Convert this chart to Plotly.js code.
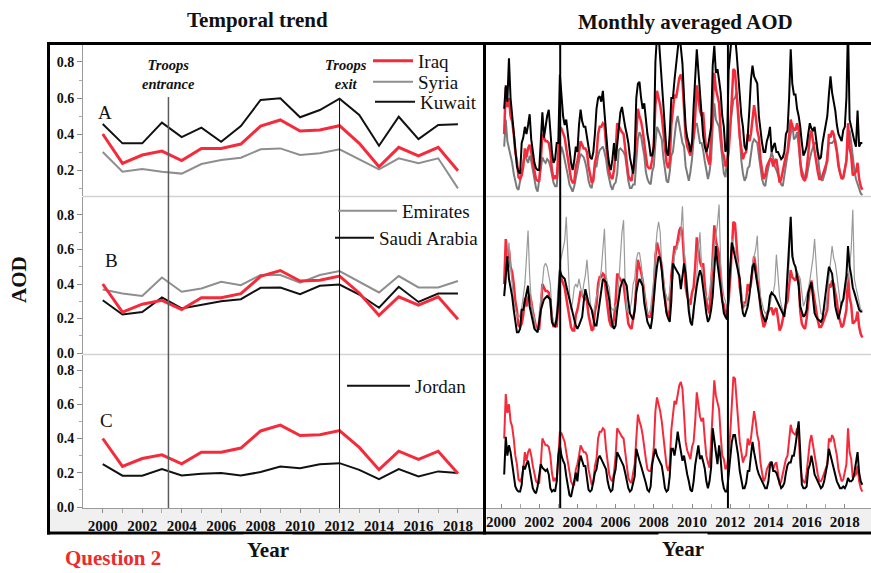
<!DOCTYPE html>
<html><head><meta charset="utf-8">
<script src="https://cdn.plot.ly/plotly-3.0.1.min.js"></script>
<style>html,body{margin:0;padding:0;background:#fff}#chart{width:871px;height:573px}</style>
</head><body><div id="chart"></div>
<script>
// ---------- DATA ----------
const years = [2000,2001,2002,2003,2004,2005,2006,2007,2008,2009,2010,2011,2012,2013,2014,2015,2016,2017,2018];
// annual means (left column)
const iraqAnnual    = [0.40,0.237,0.283,0.305,0.252,0.32,0.32,0.344,0.444,0.478,0.417,0.422,0.446,0.348,0.218,0.326,0.278,0.326,0.196];
const syriaAnnual   = [0.30,0.19,0.205,0.19,0.18,0.233,0.256,0.268,0.315,0.32,0.283,0.293,0.315,0.26,0.204,0.265,0.237,0.265,0.098];
const kuwaitAnnual  = [0.456,0.348,0.348,0.463,0.383,0.435,0.357,0.444,0.589,0.598,0.493,0.533,0.596,0.506,0.335,0.496,0.372,0.45,0.454];
const emiratesAnnual= [0.368,0.345,0.33,0.438,0.355,0.374,0.413,0.393,0.452,0.452,0.407,0.452,0.475,0.413,0.351,0.446,0.38,0.38,0.417];
const saudiAnnual   = [0.306,0.223,0.238,0.322,0.258,0.281,0.30,0.312,0.378,0.38,0.341,0.39,0.397,0.339,0.262,0.384,0.296,0.345,0.345];
const jordanAnnual  = [0.25,0.183,0.183,0.221,0.184,0.194,0.198,0.184,0.204,0.237,0.227,0.25,0.256,0.217,0.163,0.221,0.179,0.208,0.198];

// monthly means Jan 2000 .. Dec 2018 (right column), one row per year
const iraqMonthly = [
 null,null,0.40,0.66,0.55,0.60,0.50,0.47,0.40,0.30,0.25,0.16,
 0.15,0.17,0.22,0.32,0.27,0.32,0.34,0.30,0.24,0.19,0.15,0.14,
 0.14,0.25,0.40,0.38,0.36,0.36,0.35,0.30,0.20,0.15,0.17,0.15,
 0.30,0.44,0.43,0.40,0.38,0.32,0.26,0.20,0.15,0.13,0.13,0.22,
 0.25,0.30,0.36,0.34,0.32,0.32,0.30,0.22,0.17,0.13,0.14,0.24,
 0.28,0.40,0.44,0.44,0.46,0.45,0.34,0.26,0.19,0.16,0.15,0.20,
 0.30,0.46,0.44,0.43,0.41,0.40,0.32,0.22,0.17,0.15,0.14,0.20,
 0.25,0.40,0.54,0.50,0.47,0.42,0.34,0.28,0.22,0.21,0.21,0.26,
 0.35,0.56,0.64,0.60,0.56,0.50,0.40,0.32,0.24,0.21,0.25,0.45,
 0.56,0.62,0.60,0.65,0.71,0.73,0.69,0.54,0.38,0.33,0.30,0.28,
 0.35,0.38,0.50,0.67,0.60,0.53,0.50,0.52,0.40,0.30,0.26,0.23,
 0.38,0.60,0.74,0.65,0.61,0.57,0.42,0.30,0.28,0.22,0.24,0.30,
 0.43,0.60,0.76,0.75,0.62,0.50,0.38,0.32,0.26,0.29,0.30,0.40,
 0.36,0.40,0.50,0.56,0.50,0.42,0.38,0.26,0.20,0.15,0.17,0.22,
 0.24,0.26,0.26,0.22,0.25,0.26,0.20,0.13,0.15,0.20,0.24,0.28,
 0.30,0.40,0.48,0.44,0.43,0.42,0.46,0.42,0.24,0.17,0.15,0.14,
 0.20,0.28,0.38,0.42,0.36,0.30,0.26,0.19,0.15,0.15,0.17,0.20,
 0.22,0.25,0.40,0.38,0.42,0.40,0.35,0.30,0.22,0.18,0.15,0.16,
 0.20,0.25,0.46,0.32,0.28,0.17,0.18,0.19,0.24,0.15,0.11,0.09];
const syriaMonthly = [
 null,null,0.33,0.48,0.36,0.32,0.29,0.24,0.18,0.14,0.10,0.09,
 0.14,0.20,0.24,0.29,0.26,0.24,0.28,0.25,0.20,0.14,0.10,0.08,
 0.15,0.22,0.27,0.25,0.24,0.26,0.25,0.22,0.18,0.13,0.11,0.11,
 0.22,0.28,0.33,0.30,0.26,0.22,0.17,0.12,0.10,0.08,0.11,0.15,
 0.20,0.25,0.29,0.28,0.27,0.24,0.20,0.14,0.11,0.10,0.16,0.22,
 0.22,0.28,0.31,0.32,0.33,0.30,0.26,0.19,0.15,0.11,0.09,0.12,
 0.13,0.18,0.31,0.32,0.31,0.30,0.28,0.20,0.14,0.10,0.10,0.12,
 0.12,0.25,0.37,0.41,0.39,0.33,0.28,0.19,0.15,0.13,0.12,0.19,
 0.22,0.35,0.44,0.42,0.40,0.37,0.27,0.19,0.14,0.13,0.19,0.28,
 0.30,0.38,0.46,0.50,0.44,0.40,0.35,0.33,0.22,0.17,0.14,0.19,
 0.26,0.37,0.45,0.46,0.40,0.35,0.35,0.31,0.25,0.19,0.15,0.19,
 0.26,0.44,0.57,0.48,0.46,0.44,0.35,0.24,0.18,0.16,0.24,0.35,
 0.45,0.53,0.59,0.60,0.63,0.53,0.39,0.25,0.18,0.14,0.16,0.21,
 0.22,0.29,0.35,0.37,0.36,0.35,0.28,0.22,0.15,0.12,0.11,0.17,
 0.22,0.26,0.30,0.27,0.22,0.20,0.17,0.15,0.12,0.11,0.17,0.22,
 0.30,0.35,0.42,0.46,0.37,0.38,0.41,0.31,0.25,0.20,0.18,0.15,
 0.16,0.22,0.26,0.30,0.33,0.35,0.35,0.29,0.20,0.15,0.14,0.17,
 0.20,0.29,0.35,0.35,0.35,0.36,0.37,0.31,0.23,0.18,0.16,0.15,
 0.20,0.26,0.35,0.42,0.35,0.26,0.20,0.15,0.12,0.10,0.07,0.06];
const kuwaitMonthly = [
 null,null,0.54,0.67,0.58,0.82,0.60,0.50,0.40,0.32,0.22,0.19,
 0.18,0.35,0.38,0.44,0.40,0.45,0.51,0.37,0.30,0.24,0.21,0.20,
 0.20,0.37,0.52,0.38,0.45,0.50,0.535,0.42,0.30,0.24,0.26,0.35,
 0.35,0.73,0.63,0.50,0.45,0.48,0.40,0.30,0.24,0.20,0.25,0.33,
 0.30,0.45,0.535,0.47,0.44,0.44,0.38,0.33,0.27,0.26,0.30,0.40,
 0.54,0.60,0.61,0.58,0.64,0.52,0.40,0.30,0.23,0.20,0.26,0.35,
 0.25,0.35,0.45,0.52,0.55,0.48,0.44,0.40,0.35,0.27,0.22,0.18,
 0.30,0.60,0.68,0.69,0.60,0.54,0.57,0.46,0.40,0.35,0.28,0.28,
 0.33,0.80,0.95,0.95,0.82,0.70,0.53,0.42,0.30,0.28,0.40,0.60,
 0.60,0.70,0.79,0.90,0.95,0.88,0.79,0.60,0.44,0.38,0.35,0.30,
 0.35,0.55,0.70,0.87,0.75,0.63,0.49,0.39,0.33,0.30,0.33,0.40,
 0.44,0.78,0.89,0.74,0.76,0.70,0.63,0.50,0.44,0.30,0.33,0.75,
 0.85,0.95,0.95,0.95,0.85,0.72,0.58,0.50,0.44,0.33,0.31,0.39,
 0.53,0.70,0.78,0.72,0.70,0.68,0.50,0.42,0.35,0.30,0.30,0.36,
 0.39,0.44,0.30,0.33,0.35,0.30,0.30,0.28,0.26,0.27,0.30,0.40,
 0.42,0.60,0.87,0.68,0.62,0.62,0.54,0.50,0.44,0.35,0.28,0.30,
 0.33,0.40,0.46,0.43,0.42,0.44,0.36,0.30,0.26,0.27,0.35,0.40,
 0.44,0.50,0.62,0.72,0.63,0.58,0.53,0.45,0.40,0.38,0.36,0.42,
 0.44,0.60,1.00,0.48,0.43,0.40,0.36,0.33,0.53,0.33,0.35,0.35];
const emiratesMonthly = [
 null,null,0.35,0.40,0.55,0.64,0.50,0.37,0.30,0.25,0.22,0.20,
 0.22,0.26,0.33,0.40,0.55,0.71,0.45,0.30,0.23,0.20,0.14,0.14,
 0.23,0.30,0.40,0.50,0.52,0.50,0.45,0.40,0.23,0.18,0.17,0.25,
 0.40,0.52,0.56,0.60,0.65,0.79,0.55,0.35,0.25,0.30,0.38,0.40,
 0.38,0.43,0.38,0.33,0.40,0.45,0.54,0.40,0.30,0.24,0.22,0.28,
 0.33,0.35,0.42,0.48,0.60,0.72,0.45,0.40,0.38,0.27,0.25,0.25,
 0.28,0.26,0.41,0.55,0.70,0.77,0.40,0.25,0.23,0.25,0.30,0.40,
 0.43,0.54,0.58,0.58,0.52,0.42,0.33,0.28,0.23,0.23,0.26,0.36,
 0.43,0.58,0.70,0.76,0.70,0.50,0.43,0.36,0.33,0.30,0.36,0.43,
 0.43,0.56,0.60,0.62,0.65,0.70,0.85,0.60,0.52,0.40,0.30,0.20,
 0.195,0.20,0.35,0.45,0.60,0.70,0.50,0.40,0.35,0.32,0.30,0.35,
 0.45,0.56,0.62,0.68,0.75,0.86,0.52,0.40,0.33,0.30,0.25,0.35,
 0.55,0.66,0.62,0.60,0.55,0.52,0.45,0.35,0.29,0.28,0.27,0.33,
 0.33,0.40,0.52,0.56,0.60,0.68,0.45,0.33,0.28,0.25,0.23,0.24,
 0.25,0.28,0.33,0.35,0.40,0.57,0.45,0.33,0.28,0.25,0.24,0.30,
 0.40,0.52,0.76,0.60,0.52,0.50,0.47,0.45,0.43,0.35,0.27,0.30,
 0.33,0.37,0.42,0.48,0.55,0.66,0.50,0.37,0.30,0.23,0.22,0.25,
 0.25,0.35,0.45,0.52,0.62,0.55,0.52,0.45,0.37,0.30,0.27,0.30,
 0.33,0.40,0.43,0.50,0.60,0.83,0.43,0.38,0.33,0.30,0.25,0.25];
const saudiMonthly = [
 null,null,0.33,0.45,0.56,0.43,0.38,0.33,0.25,0.18,0.12,0.12,
 0.14,0.25,0.25,0.30,0.35,0.39,0.27,0.23,0.195,0.14,0.13,0.12,
 0.18,0.25,0.28,0.31,0.32,0.33,0.32,0.31,0.18,0.16,0.155,0.20,
 0.30,0.48,0.45,0.44,0.43,0.39,0.35,0.30,0.26,0.22,0.195,0.16,
 0.14,0.16,0.18,0.21,0.30,0.37,0.33,0.29,0.27,0.25,0.20,0.16,
 0.16,0.22,0.30,0.36,0.43,0.42,0.41,0.36,0.31,0.22,0.16,0.14,
 0.16,0.25,0.33,0.38,0.41,0.43,0.41,0.39,0.30,0.23,0.21,0.195,
 0.25,0.35,0.40,0.43,0.41,0.39,0.29,0.23,0.18,0.16,0.14,0.20,
 0.33,0.42,0.50,0.56,0.55,0.48,0.37,0.30,0.23,0.20,0.18,0.30,
 0.52,0.50,0.48,0.47,0.45,0.37,0.45,0.52,0.46,0.33,0.24,0.18,
 0.16,0.25,0.33,0.39,0.44,0.48,0.45,0.37,0.30,0.23,0.18,0.20,
 0.25,0.33,0.48,0.62,0.52,0.45,0.36,0.31,0.23,0.21,0.195,0.35,
 0.50,0.64,0.60,0.56,0.52,0.47,0.43,0.30,0.23,0.21,0.24,0.27,
 0.33,0.42,0.50,0.52,0.46,0.38,0.33,0.28,0.23,0.20,0.18,0.20,
 0.25,0.33,0.35,0.34,0.33,0.31,0.29,0.27,0.25,0.23,0.21,0.30,
 0.45,0.60,0.79,0.56,0.52,0.50,0.45,0.39,0.27,0.24,0.21,0.22,
 0.25,0.35,0.38,0.41,0.32,0.23,0.21,0.195,0.19,0.18,0.20,0.28,
 0.35,0.42,0.50,0.48,0.46,0.37,0.27,0.23,0.195,0.24,0.29,0.31,
 0.37,0.45,0.62,0.50,0.45,0.38,0.35,0.32,0.29,0.25,0.24,0.24];
const jordanMonthly = [
 null,null,0.19,0.41,0.30,0.36,0.32,0.25,0.20,0.12,0.10,0.09,
 0.09,0.13,0.24,0.22,0.25,0.27,0.22,0.17,0.11,0.09,0.08,0.12,
 0.20,0.25,0.23,0.22,0.21,0.22,0.19,0.11,0.09,0.10,0.09,0.15,
 0.30,0.36,0.30,0.27,0.25,0.18,0.13,0.07,0.06,0.10,0.15,0.20,
 0.15,0.25,0.30,0.27,0.24,0.24,0.18,0.10,0.09,0.10,0.15,0.20,
 0.22,0.28,0.30,0.28,0.27,0.25,0.22,0.15,0.11,0.09,0.10,0.18,
 0.22,0.32,0.30,0.28,0.26,0.24,0.20,0.15,0.11,0.09,0.10,0.14,
 0.18,0.34,0.30,0.27,0.24,0.21,0.17,0.14,0.10,0.09,0.12,0.25,
 0.30,0.34,0.30,0.28,0.26,0.24,0.18,0.11,0.09,0.10,0.18,0.34,
 0.34,0.30,0.36,0.44,0.38,0.32,0.27,0.30,0.24,0.19,0.15,0.10,
 0.09,0.15,0.245,0.30,0.36,0.28,0.30,0.265,0.225,0.15,0.11,0.15,
 0.23,0.46,0.40,0.32,0.25,0.36,0.28,0.16,0.11,0.09,0.09,0.20,
 0.30,0.38,0.42,0.42,0.36,0.30,0.21,0.15,0.11,0.11,0.14,0.21,
 0.21,0.30,0.38,0.32,0.26,0.22,0.19,0.17,0.15,0.13,0.11,0.11,
 0.15,0.245,0.265,0.21,0.21,0.20,0.17,0.13,0.11,0.12,0.14,0.20,
 0.245,0.26,0.26,0.30,0.30,0.36,0.45,0.50,0.32,0.13,0.11,0.11,
 0.12,0.22,0.245,0.30,0.25,0.19,0.17,0.15,0.12,0.11,0.12,0.15,
 0.20,0.25,0.34,0.30,0.26,0.22,0.19,0.15,0.13,0.11,0.11,0.12,
 0.11,0.13,0.17,0.15,0.15,0.16,0.20,0.25,0.32,0.20,0.15,0.13];

const eventsLeft  = [2003.33, 2012.0];   // troops entrance / exit
const eventsRight = [2003.1, 2011.88];
const monthX = iraqMonthly.map((_, i) => years[0] + i / 12);

// ---------- STYLE / LAYOUT ----------
const W = 871, H = 573;
const px = v => v / W;
const py = v => 1 - v / H;
const serif = 'Liberation Serif, "Times New Roman", serif';
const RED = '#f52b3b';

function tr(x, y, xa, ya, name, color, width, opts) {
  return Object.assign({type:'scatter', mode:'lines', x, y, xaxis:xa, yaxis:ya, name,
    line:{color, width}, showlegend:false, hoverinfo:'skip'}, opts || {});
}
const data = [
  // left A
  tr(years, iraqAnnual, 'x', 'y', 'Iraq', RED, 3, {showlegend:true, legend:'legend'}),
  tr(years, syriaAnnual, 'x', 'y', 'Syria', '#8e8e8e', 2, {showlegend:true, legend:'legend2'}),
  tr(years, kuwaitAnnual, 'x', 'y', 'Kuwait', '#111', 2, {showlegend:true, legend:'legend3'}),
  // left B
  tr(years, emiratesAnnual, 'x2', 'y2', 'Emirates', '#8e8e8e', 2, {showlegend:true, legend:'legend4'}),
  tr(years, saudiAnnual, 'x2', 'y2', 'Saudi Arabia', '#111', 2, {showlegend:true, legend:'legend5'}),
  tr(years, iraqAnnual, 'x2', 'y2', 'Iraq', RED, 3),
  // left C
  tr(years, jordanAnnual, 'x3', 'y3', 'Jordan', '#111', 2, {showlegend:true, legend:'legend6'}),
  tr(years, iraqAnnual, 'x3', 'y3', 'Iraq', RED, 3),
  // right A
  tr(monthX, syriaMonthly, 'x4', 'y4', 'Syria', '#7a7a7a', 2),
  tr(monthX, iraqMonthly, 'x4', 'y4', 'Iraq', RED, 2.5),
  tr(monthX, kuwaitMonthly, 'x4', 'y4', 'Kuwait', '#000', 2),
  // right B
  tr(monthX, iraqMonthly, 'x5', 'y5', 'Iraq', RED, 2.5),
  tr(monthX, emiratesMonthly, 'x5', 'y5', 'Emirates', '#9a9a9a', 1.2),
  tr(monthX, saudiMonthly, 'x5', 'y5', 'Saudi Arabia', '#000', 2),
  // right C
  tr(monthX, iraqMonthly, 'x6', 'y6', 'Iraq', RED, 2),
  tr(monthX, jordanMonthly, 'x6', 'y6', 'Jordan', '#000', 2)
];

const leftDom = [px(83), px(483)], rightDom = [px(486), 1];
const domA = [py(196), py(45)], domB = [py(354), py(197)], domC = [py(508), py(355)];
const rA = [0.0556, 0.8944], rB = [-0.0058, 0.9043], rC = [-0.0058, 0.8876];
const leftX = [1999.0, 2019.27], rightX = [1999.215, 2019.37];
const majorY = [0, 0.2, 0.4, 0.6, 0.8], minorY = [0.1, 0.3, 0.5, 0.7];
const evenYears = years.filter(y => y % 2 === 0), oddYears = years.filter(y => y % 2 === 1);
const tickFont = size => ({family:serif, size, color:'#111', weight:'bold'});

const hiddenX = (dom, range, anchor) => ({domain:dom, range, anchor, showticklabels:false, showline:false,
  ticks:'', showgrid:false, zeroline:false, fixedrange:true});
const hiddenY = (dom, range, anchor) => ({domain:dom, range, anchor, showticklabels:false, showline:false,
  ticks:'', showgrid:false, zeroline:false, fixedrange:true});
const leftY = (dom, range, anchor) => ({domain:dom, range, anchor, showline:true, linecolor:'#9a9a9a', linewidth:1,
  ticks:'outside', ticklen:5, tickwidth:1, tickcolor:'#8a8a8a', tickmode:'array', tickvals:majorY, tickformat:'.1f',
  tickfont:tickFont(14), minor:{tickmode:'array', tickvals:minorY, ticks:'outside', ticklen:3, tickcolor:'#aaa'},
  showgrid:false, zeroline:false, fixedrange:true});
const bottomX = (dom, range, anchor, tickdir) => ({domain:dom, range, anchor, showline:true, linecolor:'#9a9a9a', linewidth:1,
  ticks:tickdir, ticklen:4, tickcolor:'#8a8a8a', tickmode:'array', tickvals:evenYears, tickfont:tickFont(15),
  minor:{tickmode:'array', tickvals:oddYears, ticks:tickdir, ticklen:4, tickcolor:'#aaa'},
  showgrid:false, zeroline:false, fixedrange:true});

const legendBox = (x, y, iw) => ({x:px(x), y:py(y), xanchor:'left', yanchor:'middle', bgcolor:'rgba(0,0,0,0)',
  borderwidth:0, itemwidth:iw, font:{family:serif, size:19, color:'#111'}});

const hline = (y, x0, x1, color, width) => ({type:'line', xref:'paper', yref:'paper', x0:px(x0), x1:px(x1), y0:py(y), y1:py(y), line:{color, width}});
const vline = (x, y0, y1, color, width) => ({type:'line', xref:'paper', yref:'paper', x0:px(x), x1:px(x), y0:py(y0), y1:py(y1), line:{color, width}});

const shapes = [
  {type:'rect', xref:'paper', yref:'paper', x0:px(50), x1:px(482), y0:py(531), y1:py(509), fillcolor:'#f0f0f0', line:{width:0}, layer:'below'},
  {type:'rect', xref:'paper', yref:'paper', x0:px(487), x1:1, y0:py(531), y1:py(509), fillcolor:'#f0f0f0', line:{width:0}, layer:'below'},
  hline(196.5, 83, 871, '#d2d2d2', 1.5),
  hline(354.5, 83, 871, '#d2d2d2', 1.5),
  hline(43.5, 47, 871, '#000', 3),
  hline(533, 47, 871, '#000', 3),
  vline(48.5, 42, 534.5, '#000', 3),
  vline(484.5, 42, 534.5, '#000', 3),
  {type:'line', xref:'x', yref:'paper', x0:eventsLeft[0], x1:eventsLeft[0], y0:py(508), y1:py(97), line:{color:'#5c5c5c', width:1.5}},
  {type:'line', xref:'x', yref:'paper', x0:eventsLeft[1], x1:eventsLeft[1], y0:py(508), y1:py(98), line:{color:'#111', width:1}},
  {type:'line', xref:'x4', yref:'paper', x0:eventsRight[0], x1:eventsRight[0], y0:py(508), y1:py(45), line:{color:'#000', width:2}},
  {type:'line', xref:'x4', yref:'paper', x0:eventsRight[1], x1:eventsRight[1], y0:py(508), y1:py(45), line:{color:'#000', width:2}}
];

const ann = (text, x, y, size, opts) => Object.assign({text, xref:'paper', yref:'paper', x:px(x), y:py(y),
  xanchor:'center', yanchor:'middle', showarrow:false, font:{family:serif, size, color:'#111'}}, opts || {});
const annotations = [
  ann('<b>Temporal trend</b>', 257, 20, 21),
  ann('<b>Monthly averaged AOD</b>', 685, 22, 21),
  ann('<b>AOD</b>', 19, 280, 21, {textangle:-90}),
  ann('<b>Year</b>', 268, 550, 21, {bgcolor:'#fff', borderpad:3}),
  ann('<b>Year</b>', 683, 549, 21, {bgcolor:'#fff', borderpad:3}),
  ann('<b>Question 2</b>', 113, 558, 21, {font:{family:serif, size:21, color:'#ee2a2a'}}),
  ann('<b><i>Troops</i></b><br><b><i>entrance</i></b>', 168, 75, 14.5),
  ann('<b><i>Troops</i></b><br><b><i>exit</i></b>', 346, 75, 14.5),
  ann('A', 105, 112, 19),
  ann('B', 111, 260, 19),
  ann('C', 106, 420, 19)
];

const layout = {
  width:W, height:H, margin:{l:0, r:0, t:0, b:0}, paper_bgcolor:'#fff', plot_bgcolor:'rgba(0,0,0,0)',
  font:{family:serif, color:'#111'},
  xaxis: hiddenX(leftDom, leftX, 'y'),
  yaxis: leftY(domA, rA, 'x'),
  xaxis2: hiddenX(leftDom, leftX, 'y2'),
  yaxis2: leftY(domB, rB, 'x2'),
  xaxis3: bottomX(leftDom, leftX, 'y3', 'outside'),
  yaxis3: leftY(domC, rC, 'x3'),
  xaxis4: hiddenX(rightDom, rightX, 'y4'),
  yaxis4: hiddenY(domA, rA, 'x4'),
  xaxis5: hiddenX(rightDom, rightX, 'y5'),
  yaxis5: hiddenY(domB, rB, 'x5'),
  xaxis6: bottomX(rightDom, rightX, 'y6', 'inside'),
  yaxis6: hiddenY(domC, rC, 'x6'),
  legend:  legendBox(368, 61, 40),
  legend2: legendBox(368, 82, 40),
  legend3: legendBox(370, 102, 40),
  legend4: legendBox(333, 211, 59),
  legend5: legendBox(330, 238, 39),
  legend6: legendBox(342, 386, 63),
  shapes, annotations
};

Plotly.newPlot('chart', data, layout, {displayModeBar:false, staticPlot:true});
</script>
</body></html>
